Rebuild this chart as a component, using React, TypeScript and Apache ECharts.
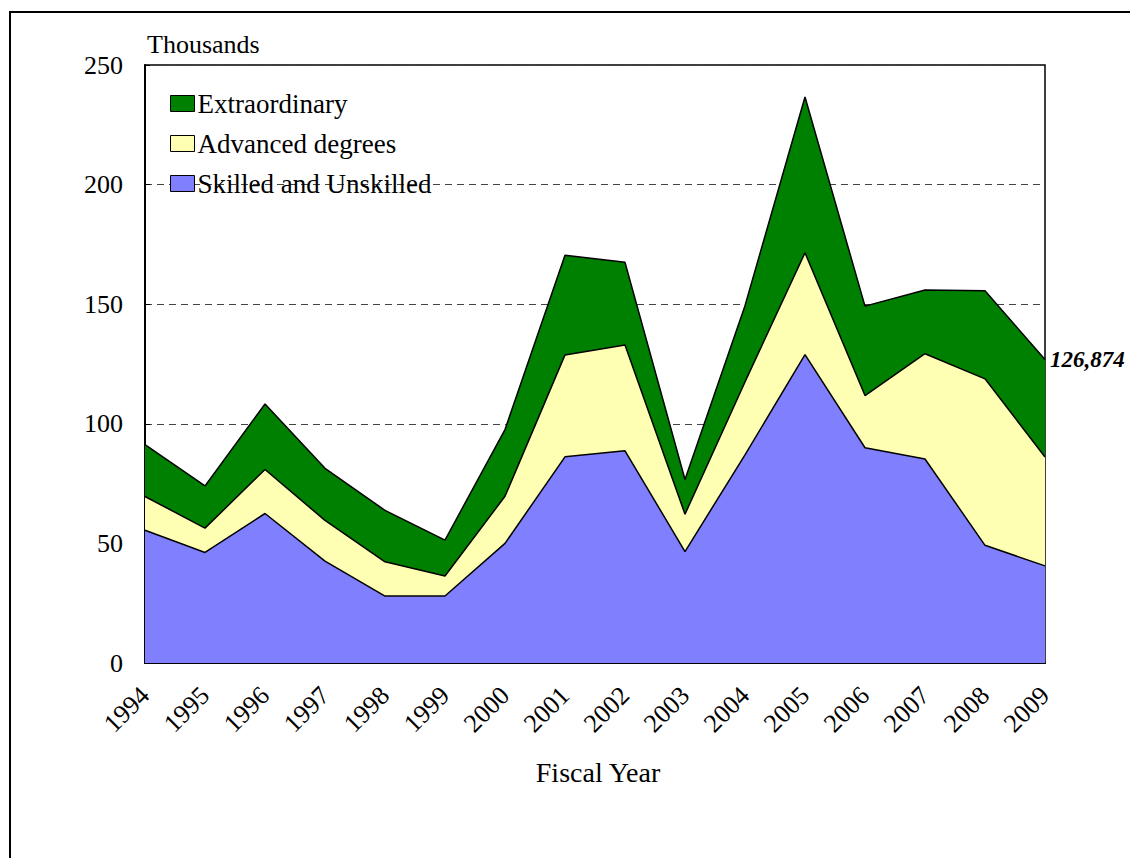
import React, { useEffect, useRef } from "react";
import * as echarts from "echarts";

const years = ["1994","1995","1996","1997","1998","1999","2000","2001","2002","2003","2004","2005","2006","2007","2008","2009"];
const skilled = [55.5, 46.2, 62.5, 42.6, 28.0, 28.0, 50.0, 86.2, 88.7, 46.6, 87.0, 128.9, 90.0, 85.3, 49.2, 40.6];
const advanced = [14.1, 10.2, 18.4, 17.0, 14.3, 8.4, 19.7, 42.6, 44.2, 15.6, 30.5, 42.6, 21.8, 44.0, 69.6, 45.5];
const extraordinary = [21.7, 17.6, 27.4, 21.8, 21.5, 15.0, 27.9, 41.7, 34.6, 14.5, 31.9, 65.1, 37.4, 26.6, 36.8, 40.774];
const yTicks = { min: 0, max: 250, interval: 50 };

const FONT = "'Liberation Serif', 'Times New Roman', serif";

export default function App() {
  const ref = useRef<HTMLDivElement>(null);
  useEffect(() => {
    if (!ref.current) return;
    const chart = echarts.init(ref.current, null, { renderer: "svg" });
    const last = years.length - 1;
    const total = skilled[last] + advanced[last] + extraordinary[last];
    const totalText = Math.round(total * 1000).toLocaleString("en-US");
    const mk = (name: string, data: number[], color: string, extra: any = {}) => ({
      name,
      type: "line",
      stack: "total",
      data,
      symbol: "none",
      itemStyle: { color },
      lineStyle: { color: "#000", width: 1.5 },
      areaStyle: { color, opacity: 1 },
      ...extra,
    });
    chart.setOption({
      animation: false,
      backgroundColor: "#fff",
      graphic: [
        { type: "rect", shape: { x: 10, y: 12, width: 1200, height: 900 }, style: { fill: "none", stroke: "#000", lineWidth: 2 }, z: -1 },
        { type: "text", x: 147, y: 44, style: { text: "Thousands", font: `26px ${FONT}`, fill: "#000", textVerticalAlign: "middle" } },
        { type: "text", x: 598, y: 772, style: { text: "Fiscal Year", font: `28px ${FONT}`, fill: "#000", textAlign: "center", textVerticalAlign: "middle" } },
      ],
      grid: { left: 145, top: 65, width: 900, height: 598, show: true, borderColor: "#000", borderWidth: 1.5, backgroundColor: "transparent" },
      legend: {
        orient: "vertical",
        left: 170,
        top: 90,
        padding: 0,
        icon: "rect",
        itemWidth: 24,
        itemHeight: 16,
        itemGap: 13,
        itemStyle: { borderColor: "#000", borderWidth: 1 },
        textStyle: { fontSize: 27, fontFamily: FONT, color: "#000", lineHeight: 26, padding: [0, 0, 0, -2] },
        data: ["Extraordinary", "Advanced degrees", "Skilled and Unskilled"],
      },
      xAxis: {
        type: "category",
        data: years,
        boundaryGap: false,
        axisLine: { lineStyle: { color: "#000", width: 2 } },
        axisTick: { show: false },
        axisLabel: { rotate: 45, margin: 28, fontSize: 26, fontFamily: FONT, color: "#000", interval: 0 },
      },
      yAxis: {
        type: "value",
        min: yTicks.min,
        max: yTicks.max,
        interval: yTicks.interval,
        axisLine: { show: true, lineStyle: { color: "#000", width: 2 } },
        axisTick: { show: true, inside: true, length: 5, lineStyle: { color: "#000" } },
        axisLabel: { margin: 22, fontSize: 26, fontFamily: FONT, color: "#000" },
        splitLine: { show: true, lineStyle: { color: "#444", type: [7, 5], width: 1 } },
      },
      series: [
        mk("Skilled and Unskilled", skilled, "#8080FF"),
        mk("Advanced degrees", advanced, "#FFFFB3"),
        mk("Extraordinary", extraordinary, "#008000", {
          endLabel: {
            show: true,
            formatter: () => totalText,
            fontSize: 23,
            fontWeight: "bold",
            fontStyle: "italic",
            fontFamily: FONT,
            color: "#000",
            distance: 5,
          },
        }),
      ],
    });
    return () => chart.dispose();
  }, []);
  return <div ref={ref} style={{ position: "absolute", left: 0, top: 0, width: 1130, height: 858 }} />;
}
